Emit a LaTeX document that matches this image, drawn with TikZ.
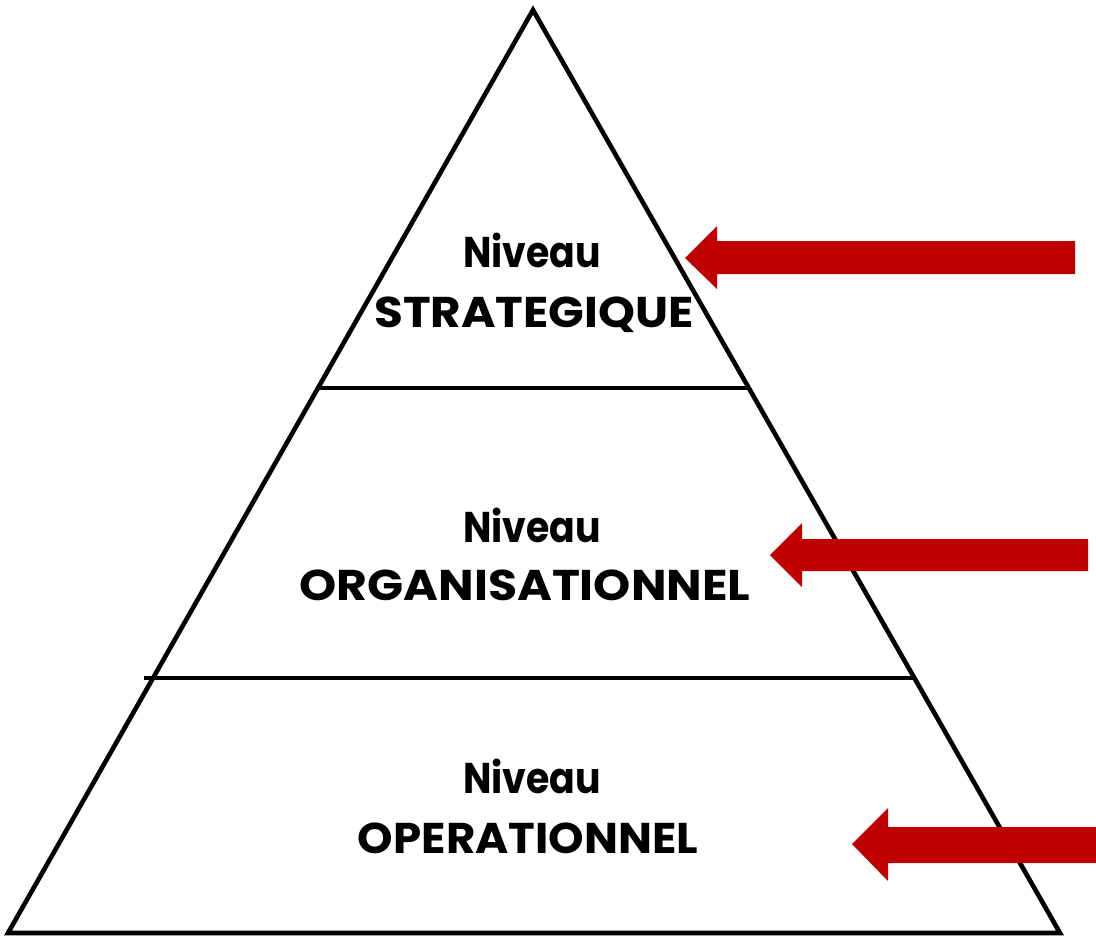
\documentclass[tikz,border=0pt]{standalone}
\usepackage{fontspec}
\usepackage{graphicx}
\setmainfont{Poppins}
\definecolor{arrowred}{HTML}{C00000}
\begin{document}
\begin{tikzpicture}[x=1pt,y=-1pt,
  edge/.style={line width=4.6pt,black,line join=miter},
  levelline/.style={line width=4.6pt,black},
  redarrow/.style={fill=arrowred,draw=none},
  lbl/.style={anchor=base,inner sep=0pt,font=\fontsize{43}{43}\selectfont\bfseries}]
\useasboundingbox (0,0) rectangle (1096,938);
% pyramid
\coordinate (apex) at (533,10);
\coordinate (bl) at (8,933);
\coordinate (br) at (1060,933);
\draw[edge] (apex) -- (br) -- (bl) -- cycle;
\coordinate (l1a) at (316,388);
\coordinate (l1b) at (749,388);
\coordinate (l2a) at (144,678);
\coordinate (l2b) at (914,678);
\draw[levelline] (l1a) -- (l1b);
\draw[levelline] (l2a) -- (l2b);
% labels
\node[lbl] (n1) at (532,267) {\scalebox{0.88}[1]{Niveau}};
\node[lbl] (s1) at (534,327) {\scalebox{1.09}[1]{STRATEGIQUE}};
\node[lbl] (n2) at (532,542) {\scalebox{0.88}[1]{Niveau}};
\node[lbl] (s2) at (525,600) {\scalebox{1.10}[1]{ORGANISATIONNEL}};
\node[lbl] (n3) at (532,793) {\scalebox{0.88}[1]{Niveau}};
\node[lbl] (s3) at (528,853) {\scalebox{1.05}[1]{OPERATIONNEL}};
% arrows
\fill[redarrow] (685,258) -- (717,226) -- (717,241) -- (1075,241) -- (1075,274) -- (717,274) -- (717,289) -- cycle;
\fill[redarrow] (770,555) -- (802,523) -- (802,539) -- (1088,539) -- (1088,571) -- (802,571) -- (802,587) -- cycle;
\fill[redarrow] (852,844) -- (888,808) -- (888,827) -- (1096,827) -- (1096,863) -- (888,863) -- (888,881) -- cycle;
\end{tikzpicture}
\end{document}
